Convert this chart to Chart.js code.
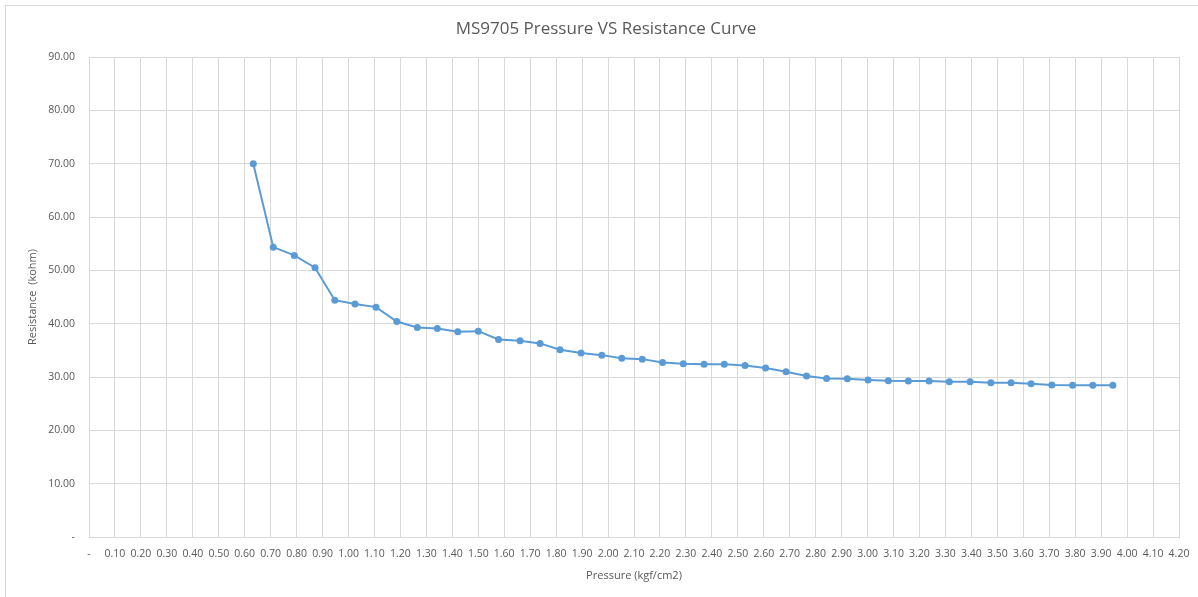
<!DOCTYPE html>
<html>
<head>
<meta charset="utf-8">
<script src="https://cdn.jsdelivr.net/npm/chart.js@4/dist/chart.umd.min.js"></script>
<style>
html,body{margin:0;padding:0;background:#fff;}
#wrap{position:relative;width:1198px;height:597px;}
</style>
</head>
<body>
<div id="wrap"><canvas id="c" width="1198" height="597"></canvas></div>
<script>
const chartTitle = 'MS9705 Pressure VS Resistance Curve';
const xAxisTitle = 'Pressure (kgf/cm2)';
const yAxisTitle = 'Resistance  (kohm)';

const pressure = [0.633, 0.710, 0.791, 0.871, 0.947, 1.025, 1.106, 1.186, 1.265, 1.342, 1.421, 1.500, 1.578,
  1.661, 1.738, 1.815, 1.896, 1.976, 2.053, 2.132, 2.210, 2.290, 2.370, 2.448, 2.528, 2.607, 2.686, 2.765, 2.842, 2.922, 3.002,
  3.080, 3.157, 3.237, 3.315, 3.395, 3.475, 3.553, 3.630, 3.710, 3.790, 3.868, 3.945];
const resistance = [70.0, 54.35, 52.8, 50.5, 44.4, 43.7, 43.1, 40.4, 39.3, 39.1, 38.5, 38.6, 37.05,
  36.8, 36.3, 35.1, 34.5, 34.1, 33.5, 33.35, 32.7, 32.5, 32.4, 32.4, 32.15, 31.7, 31.0, 30.2, 29.7, 29.65, 29.45,
  29.3, 29.25, 29.25, 29.1, 29.1, 28.9, 28.9, 28.75, 28.5, 28.45, 28.45, 28.45];

const xMin = 0, xMax = 4.2, xStep = 0.1;
const yMin = 0, yMax = 90, yStep = 10;

const points = pressure.map((p, i) => ({x: p, y: resistance[i]}));
const textColor = '#595959';
const gridColor = '#d9d9d9';
const lineColor = '#5b9bd5';
const fontFam = "'Open Sans', 'Liberation Sans', sans-serif";

const framePlugin = {
  id: 'frame',
  beforeDraw(chart) {
    const ctx = chart.ctx;
    ctx.save();
    ctx.strokeStyle = '#d9d9d9';
    ctx.lineWidth = 1;
    ctx.strokeRect(5.5, 5.5, 1198, 597);
    ctx.restore();
  },
  afterDraw(chart) {
    const ctx = chart.ctx;
    ctx.save();
    ctx.fillStyle = textColor;
    ctx.font = "17px " + fontFam;
    ctx.textAlign = 'center';
    ctx.textBaseline = 'middle';
    ctx.fillText(chartTitle, 606, 29);
    ctx.restore();
  }
};

new Chart(document.getElementById('c'), {
  type: 'scatter',
  data: {
    datasets: [{
      data: points,
      showLine: true,
      borderColor: lineColor,
      backgroundColor: lineColor,
      borderWidth: 2,
      pointRadius: 3.5,
      pointHoverRadius: 3.5,
      pointBorderWidth: 0,
      tension: 0
    }]
  },
  options: {
    responsive: false,
    animation: false,
    layout: {padding: {left: 0, right: 0, top: 57, bottom: 0}},
    plugins: {
      legend: {display: false},
      tooltip: {enabled: false},
      title: {display: false}
    },
    scales: {
      x: {
        type: 'linear',
        min: xMin, max: xMax,
        afterFit(s) { s.height = 60; s.paddingRight = 19; },
        border: {color: gridColor, width: 1},
        grid: {color: gridColor, lineWidth: 1, drawTicks: false},
        ticks: {
          stepSize: xStep,
          autoSkip: false,
          maxRotation: 0,
          padding: 11,
          color: textColor,
          font: {family: fontFam, size: 10.5},
          callback: v => Math.abs(v) < 1e-9 ? '-' : Number(v).toFixed(2)
        },
        title: {
          display: true,
          text: xAxisTitle,
          color: textColor,
          font: {family: fontFam, size: 11},
          padding: {top: 0, bottom: 14.5}
        }
      },
      y: {
        type: 'linear',
        min: yMin, max: yMax,
        afterFit(s) { s.width = 89; },
        border: {color: gridColor, width: 1},
        grid: {color: gridColor, lineWidth: 1, drawTicks: false},
        ticks: {
          stepSize: yStep,
          padding: 14,
          color: textColor,
          font: {family: fontFam, size: 10.5},
          callback: v => Math.abs(v) < 1e-9 ? '-' : Number(v).toFixed(2)
        },
        title: {
          display: true,
          text: yAxisTitle,
          color: textColor,
          font: {family: fontFam, size: 11},
          padding: {top: 26, bottom: 0}
        }
      }
    }
  },
  plugins: [framePlugin]
});
</script>
</body>
</html>
